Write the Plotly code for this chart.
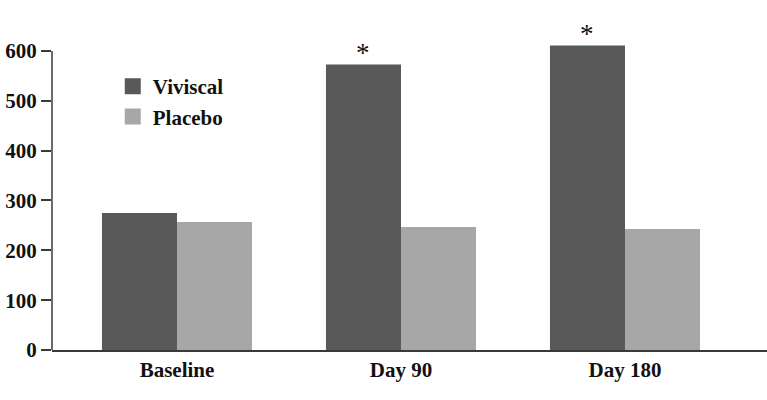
import plotly.graph_objects as go

categories = ["Baseline", "Day 90", "Day 180"]
viviscal = [275, 573, 611]
placebo = [257, 247, 243]
significance = ["", "*", "*"]
y_ticks = [0, 100, 200, 300, 400, 500, 600]

DARK = "#595959"
LIGHT = "#a7a7a7"
AXIS = "#3a3a3a"
FONT = "Liberation Serif"
BARGAP = 0.33
X_RANGE = [-0.558, 2.634]
FIG_W, FIG_H = 767, 400
M_L, M_R, M_T, M_B = 52, 0, 31, 50
PLOT_W = FIG_W - M_L - M_R

fig = go.Figure()
fig.add_trace(go.Bar(
    x=categories, y=viviscal, name="Viviscal", marker=dict(color=DARK, line=dict(width=0)),
    showlegend=False,
))
fig.add_trace(go.Bar(
    x=categories, y=placebo, name="Placebo", marker=dict(color=LIGHT, line=dict(width=0)),
    showlegend=False,
))
# legend entries (square swatches)
fig.add_trace(go.Scatter(x=[None], y=[None], mode="markers", name="Viviscal", legendgroup="a",
                         marker=dict(symbol="square", size=16, color=DARK, line=dict(width=0))))
fig.add_trace(go.Scatter(x=[None], y=[None], mode="markers", name="Placebo", legendgroup="b",
                         marker=dict(symbol="square", size=16, color=LIGHT, line=dict(width=0))))

# significance markers above the Viviscal bars
px_per_cat = PLOT_W / (X_RANGE[1] - X_RANGE[0])
bar_offset = -(1 - BARGAP) / 4 * px_per_cat
for cat, val, s in zip(categories, viviscal, significance):
    if s:
        fig.add_annotation(x=cat, y=val, text=s, showarrow=False, yanchor="bottom",
                           xshift=bar_offset, yshift=-6,
                           font=dict(family=FONT, size=27, color="#111"))

fig.add_shape(type="line", xref="paper", yref="y", x0=0, x1=0, y0=0, y1=max(y_ticks),
              line=dict(color=AXIS, width=1.5))

fig.update_layout(
    width=FIG_W, height=FIG_H,
    margin=dict(l=M_L, r=M_R, t=M_T, b=M_B, autoexpand=False),
    paper_bgcolor="white", plot_bgcolor="white",
    barmode="group", bargap=BARGAP, bargroupgap=0,
    font=dict(family=FONT, size=21, color="#111"),
    showlegend=True,
    legend=dict(x=0.085, y=0.89, xanchor="left", yanchor="top", tracegroupgap=0,
                font=dict(family=FONT, size=21, weight="bold", color="#111"),
                bgcolor="rgba(0,0,0,0)"),
    xaxis=dict(range=X_RANGE, showline=True, linecolor=AXIS, linewidth=1.5, automargin=False,
               ticks="", showgrid=False, zeroline=False,
               tickfont=dict(family=FONT, size=21, weight="bold", color="#111")),
    yaxis=dict(range=[0, 640], tickvals=y_ticks, showline=False, showgrid=False, zeroline=False,
               automargin=False,
               ticks="outside", ticklen=10, tickwidth=1.5, tickcolor=AXIS,
               tickfont=dict(family=FONT, size=21, weight="bold", color="#111")),
)

fig.write_html("out.html", config={"displayModeBar": False},
               post_script="document.body.style.margin='0px';")
